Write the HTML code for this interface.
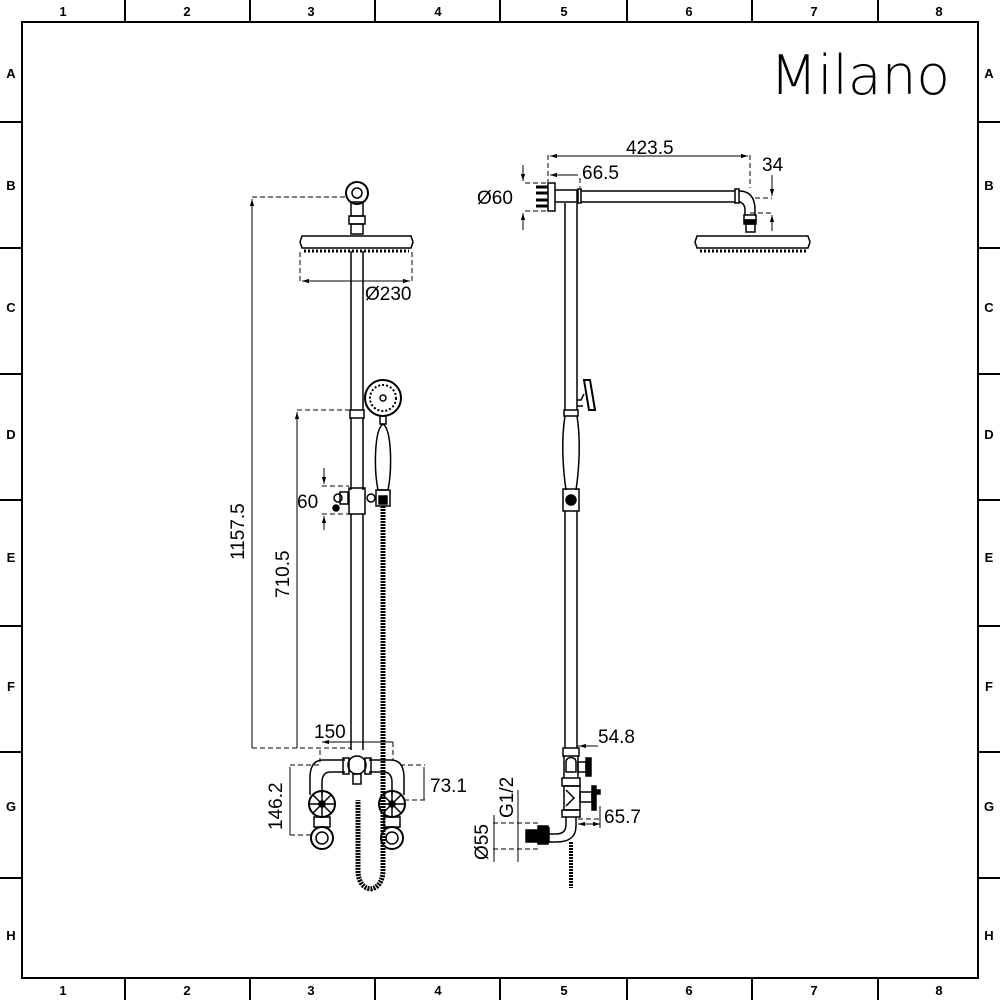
<!DOCTYPE html>
<html><head><meta charset="utf-8"><style>
html,body{margin:0;padding:0;background:#fff}
svg{display:block}
text{font-family:"Liberation Sans",sans-serif;fill:#000}
</style></head><body>
<svg width="1000" height="1000" viewBox="0 0 1000 1000" xmlns="http://www.w3.org/2000/svg">
<defs>
<marker id="a" viewBox="0 0 10 10" refX="10" refY="5" markerWidth="7" markerHeight="7" orient="auto-start-reverse"><path d="M0,2 L10,5 L0,8 z" fill="#000"/></marker>
</defs>
<!-- frame -->
<rect x="22" y="22" width="956" height="956" fill="none" stroke="#000" stroke-width="2"/>
<g stroke="#000" stroke-width="2">
<line x1="125" y1="0" x2="125" y2="22"/><line x1="250" y1="0" x2="250" y2="22"/><line x1="375" y1="0" x2="375" y2="22"/><line x1="500" y1="0" x2="500" y2="22"/><line x1="627" y1="0" x2="627" y2="22"/><line x1="752" y1="0" x2="752" y2="22"/><line x1="878" y1="0" x2="878" y2="22"/>
<line x1="125" y1="978" x2="125" y2="1000"/><line x1="250" y1="978" x2="250" y2="1000"/><line x1="375" y1="978" x2="375" y2="1000"/><line x1="500" y1="978" x2="500" y2="1000"/><line x1="627" y1="978" x2="627" y2="1000"/><line x1="752" y1="978" x2="752" y2="1000"/><line x1="878" y1="978" x2="878" y2="1000"/>
<line x1="0" y1="122" x2="22" y2="122"/><line x1="0" y1="248" x2="22" y2="248"/><line x1="0" y1="374" x2="22" y2="374"/><line x1="0" y1="500" x2="22" y2="500"/><line x1="0" y1="626" x2="22" y2="626"/><line x1="0" y1="752" x2="22" y2="752"/><line x1="0" y1="878" x2="22" y2="878"/>
<line x1="978" y1="122" x2="1000" y2="122"/><line x1="978" y1="248" x2="1000" y2="248"/><line x1="978" y1="374" x2="1000" y2="374"/><line x1="978" y1="500" x2="1000" y2="500"/><line x1="978" y1="626" x2="1000" y2="626"/><line x1="978" y1="752" x2="1000" y2="752"/><line x1="978" y1="878" x2="1000" y2="878"/>
</g>
<g font-size="13" font-weight="bold" text-anchor="middle">
<text x="63" y="16">1</text><text x="187" y="16">2</text><text x="311" y="16">3</text><text x="438" y="16">4</text><text x="564" y="16">5</text><text x="689" y="16">6</text><text x="814" y="16">7</text><text x="939" y="16">8</text>
<text x="63" y="995">1</text><text x="187" y="995">2</text><text x="311" y="995">3</text><text x="438" y="995">4</text><text x="564" y="995">5</text><text x="689" y="995">6</text><text x="814" y="995">7</text><text x="939" y="995">8</text>
<text x="11" y="78">A</text><text x="11" y="190">B</text><text x="11" y="312">C</text><text x="11" y="439">D</text><text x="11" y="562">E</text><text x="11" y="691">F</text><text x="11" y="811">G</text><text x="11" y="940">H</text>
<text x="989" y="78">A</text><text x="989" y="190">B</text><text x="989" y="312">C</text><text x="989" y="439">D</text><text x="989" y="562">E</text><text x="989" y="691">F</text><text x="989" y="811">G</text><text x="989" y="940">H</text>
</g>
<text x="770" y="94" font-size="54" font-weight="300" style="font-family:'DejaVu Sans','Liberation Sans',sans-serif" textLength="180" lengthAdjust="spacingAndGlyphs">Milano</text>

<!-- LEFT VIEW -->
<g fill="none" stroke="#000" stroke-width="1.5">
<circle cx="357" cy="193" r="11" stroke-width="2"/><circle cx="357" cy="193" r="5"/>
<rect x="351" y="202" width="12" height="14"/><rect x="349" y="216" width="16" height="8"/><rect x="351" y="224" width="12" height="10"/>
<path d="M302,236 H411 L413,242 L411,248 H302 L300,242 Z"/><line x1="304" y1="251" x2="409" y2="251" stroke-dasharray="2,2" stroke-width="3"/>
<line x1="351" y1="251" x2="351" y2="410"/><line x1="363" y1="251" x2="363" y2="410"/>
<rect x="350" y="410" width="14" height="8"/>
<line x1="351" y1="418" x2="351" y2="490"/><line x1="363" y1="418" x2="363" y2="490"/>
<rect x="349" y="488" width="16" height="26"/>
<line x1="351" y1="514" x2="351" y2="750"/><line x1="363" y1="514" x2="363" y2="750"/>
<path d="M340,492 h8 v12 h-8 z"/><circle cx="338" cy="498" r="4"/><circle cx="336" cy="508" r="3" fill="#000"/>
<circle cx="383" cy="398" r="18" stroke-width="2"/><circle cx="383" cy="398" r="13" stroke-dasharray="2,2" stroke-width="2"/><circle cx="383" cy="398" r="3"/>
<path d="M380,416 h6 v8 h-6 z"/>
<path d="M383,424 C374,430 374,470 378,490 h10 C392,470 392,430 383,424 Z"/>
<circle cx="371" cy="498" r="4"/><rect x="376" y="490" width="14" height="16"/><rect x="379" y="496" width="8" height="8" fill="#000"/>
<!-- hose -->
<path d="M383,506 V870 C383,895 358,895 358,870 V800" stroke-width="5" stroke-dasharray="2,1"/>
<!-- bottom -->
<circle cx="357" cy="765" r="9"/><rect x="353" y="774" width="8" height="10"/>
<path d="M345,760 H323 C312,760 310,770 310,778 V795 M345,772 H330 C325,772 322,776 322,782 V795"/>
<rect x="343" y="758" width="6" height="16"/>
<path d="M369,760 H391 C402,760 404,770 404,778 V795 M369,772 H384 C389,772 392,776 392,782 V795"/>
<rect x="365" y="758" width="6" height="16"/>
<circle cx="322" cy="804" r="13" stroke-width="2"/><circle cx="322" cy="804" r="3"/><path d="M322,791 V817 M309,804 H335 M313,795 L331,813 M313,813 L331,795"/>
<circle cx="392" cy="804" r="13" stroke-width="2"/><circle cx="392" cy="804" r="3"/><path d="M392,791 V817 M379,804 H405 M383,795 L401,813 M383,813 L401,795"/>
<rect x="314" y="817" width="16" height="10"/><circle cx="322" cy="838" r="11" stroke-width="2"/><circle cx="322" cy="838" r="6"/>
<rect x="384" y="817" width="16" height="10"/><circle cx="392" cy="838" r="11" stroke-width="2"/><circle cx="392" cy="838" r="6"/>
</g>
<!-- left dims -->
<g fill="none" stroke="#000" stroke-width="1" stroke-dasharray="5,3">
<line x1="252" y1="197" x2="345" y2="197"/><line x1="252" y1="748" x2="351" y2="748"/>
<line x1="300" y1="252" x2="300" y2="283"/><line x1="412" y1="252" x2="412" y2="283"/>
<line x1="297" y1="410" x2="350" y2="410"/>
<line x1="322" y1="486" x2="349" y2="486"/><line x1="322" y1="514" x2="349" y2="514"/>
<line x1="320" y1="750" x2="320" y2="762"/><line x1="393" y1="742" x2="393" y2="760"/>
<line x1="290" y1="765" x2="320" y2="765"/><line x1="290" y1="835" x2="312" y2="835"/>
<line x1="400" y1="765" x2="425" y2="765"/><line x1="404" y1="800" x2="425" y2="800"/>
</g>
<g stroke="#000" stroke-width="1" fill="none">
<line x1="252" y1="748" x2="252" y2="199" marker-end="url(#a)"/>
<line x1="297" y1="748" x2="297" y2="412" marker-end="url(#a)"/>
<line x1="302" y1="281" x2="410" y2="281" marker-start="url(#a)" marker-end="url(#a)"/>
<line x1="324" y1="468" x2="324" y2="484" marker-end="url(#a)"/><line x1="324" y1="530" x2="324" y2="516" marker-end="url(#a)"/>
<line x1="322" y1="742" x2="393" y2="742" marker-start="url(#a)"/>
<line x1="290" y1="767" x2="290" y2="835"/>
<line x1="424" y1="767" x2="424" y2="800"/>
</g>
<g font-size="19">
<text x="365" y="300">Ø230</text>
<text x="297" y="508">60</text>
<text x="314" y="738">150</text>
<text x="430" y="792">73.1</text>
<text transform="translate(244,560) rotate(-90)">1157.5</text>
<text transform="translate(289,598) rotate(-90)">710.5</text>
<text transform="translate(282,830) rotate(-90)">146.2</text>
</g>

<!-- RIGHT VIEW -->
<g fill="none" stroke="#000" stroke-width="1.5">
<rect x="548" y="183" width="7" height="28"/>
<g stroke-width="3"><line x1="536" y1="187" x2="548" y2="187"/><line x1="536" y1="193" x2="548" y2="193"/><line x1="536" y1="200" x2="548" y2="200"/><line x1="536" y1="206" x2="548" y2="206"/></g>
<path d="M555,190 H577 V202 H566 V202"/>
<line x1="555" y1="202" x2="566" y2="202"/>
<rect x="578" y="189" width="3" height="14"/>
<line x1="581" y1="191" x2="735" y2="191"/><line x1="581" y1="202" x2="735" y2="202"/>
<rect x="735" y="189" width="4" height="14"/>
<path d="M739,191 C750,191 755,198 755,210 V215 M739,202 C742,202 745,205 745,210 V215"/>
<rect x="744" y="215" width="12" height="5"/><rect x="744" y="220" width="12" height="4" fill="#000"/><rect x="746" y="224" width="9" height="8"/>
<path d="M697,236 H808 L810,242 L808,248 H697 L695,242 Z"/><line x1="700" y1="251" x2="806" y2="251" stroke-dasharray="2,2" stroke-width="3"/>
<line x1="565" y1="203" x2="565" y2="410"/><line x1="577" y1="203" x2="577" y2="410"/>
<rect x="564" y="410" width="14" height="6"/>
<path d="M577,400 h4 l3,-6 M577,406 h6"/><path d="M584,380 l6,0 l5,30 l-6,0 z" stroke-width="2"/>
<path d="M565,416 C561,440 563,470 566,490 M577,416 C581,440 579,470 576,490"/>
<rect x="563" y="489" width="16" height="22"/><circle cx="571" cy="500" r="5" fill="#000"/>
<line x1="565" y1="511" x2="565" y2="748"/><line x1="577" y1="511" x2="577" y2="748"/>
<rect x="563" y="748" width="16" height="8"/>
<path d="M564,756 v22 M578,756 v22"/><path d="M566,762 C566,756 576,756 576,762 V772 H566 Z"/>
<rect x="578" y="762" width="8" height="10"/><rect x="586" y="758" width="5" height="18" fill="#000"/>
<rect x="562" y="778" width="18" height="8"/>
<path d="M564,786 L580,786 L580,810 L564,810 Z M566,790 L574,798 L566,806"/>
<rect x="580" y="792" width="12" height="10"/><rect x="592" y="786" width="4" height="24" fill="#000"/><rect x="596" y="790" width="4" height="4" fill="#000"/>
<rect x="562" y="810" width="18" height="7"/>
<path d="M566,817 V824 C566,832 562,834 555,834 H548 M576,817 V826 C576,838 568,842 556,842 H548"/>
<rect x="538" y="826" width="10" height="18" fill="#000"/><rect x="545" y="828" width="4" height="14"/>
<rect x="526" y="830" width="12" height="12" fill="#000"/>
<path d="M571,842 V888" stroke-width="4" stroke-dasharray="2,1"/>
</g>
<!-- right dims -->
<g fill="none" stroke="#000" stroke-width="1" stroke-dasharray="5,3">
<line x1="548" y1="155" x2="548" y2="182"/><line x1="580" y1="178" x2="580" y2="188"/><line x1="750" y1="155" x2="750" y2="188"/>
<line x1="525" y1="183" x2="547" y2="183"/><line x1="525" y1="211" x2="547" y2="211"/>
<line x1="755" y1="198" x2="772" y2="198"/><line x1="750" y1="213" x2="772" y2="213"/>
<line x1="577" y1="746" x2="598" y2="746"/><line x1="578" y1="819" x2="600" y2="819"/>
<line x1="493" y1="823" x2="540" y2="823"/><line x1="493" y1="849" x2="540" y2="849"/>
</g>
<g stroke="#000" stroke-width="1" fill="none">
<line x1="550" y1="156" x2="748" y2="156" marker-start="url(#a)" marker-end="url(#a)"/>
<line x1="550" y1="175" x2="578" y2="175" marker-start="url(#a)"/>
<line x1="523" y1="165" x2="523" y2="181" marker-end="url(#a)"/><line x1="523" y1="230" x2="523" y2="213" marker-end="url(#a)"/>
<line x1="772" y1="175" x2="772" y2="196" marker-end="url(#a)"/><line x1="772" y1="231" x2="772" y2="215" marker-end="url(#a)"/>
<line x1="579" y1="746" x2="596" y2="746" marker-start="url(#a)"/>
<line x1="578" y1="824" x2="600" y2="824" marker-start="url(#a)" marker-end="url(#a)"/><line x1="600" y1="806" x2="600" y2="828"/>
<line x1="494" y1="815" x2="494" y2="862"/>
<line x1="518" y1="790" x2="518" y2="862"/><line x1="518" y1="830" x2="518" y2="830"/>
</g>
<g font-size="19">
<text x="626" y="154">423.5</text>
<text x="582" y="179">66.5</text>
<text x="762" y="171">34</text>
<text x="477" y="204">Ø60</text>
<text x="598" y="743">54.8</text>
<text x="604" y="823">65.7</text>
<text transform="translate(513,818) rotate(-90)">G1/2</text>
<text transform="translate(488,860) rotate(-90)">Ø55</text>
</g>
</svg>
</body></html>
